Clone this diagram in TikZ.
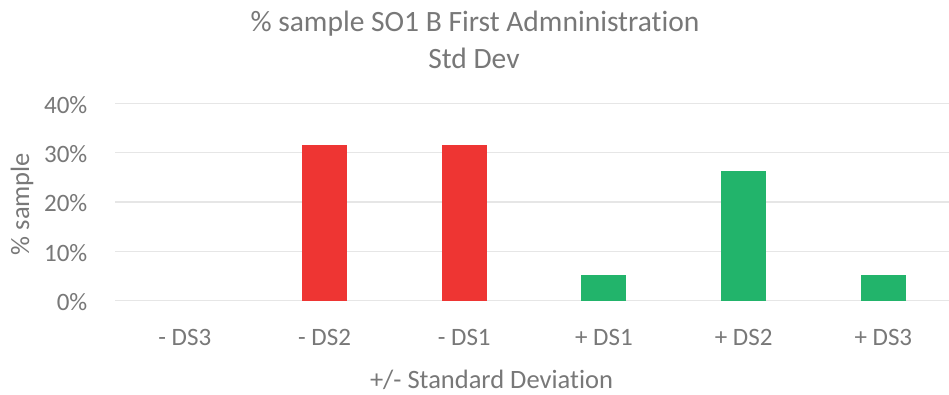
\documentclass[tikz,border=0pt]{standalone}
\usepackage{fontspec}
\setmainfont[Ligatures=NoCommon]{Carlito}
\definecolor{txtgray}{HTML}{787878}
\definecolor{gridgray}{HTML}{E6E6E6}
\definecolor{barred}{HTML}{EE3533}
\definecolor{bargreen}{HTML}{22B46B}
\tikzset{
  charttitle/.style={text=txtgray, font=\fontsize{29.5}{34}\selectfont, inner sep=0pt, anchor=base},
  ticklabel/.style={text=txtgray, font=\fontsize{25}{30}\selectfont, inner sep=0pt},
  axistitle/.style={text=txtgray, font=\fontsize{26.5}{31}\selectfont, inner sep=0pt},
  gridline/.style={draw=gridgray, line width=1.5pt},
  negbar/.style={fill=barred, draw=none},
  posbar/.style={fill=bargreen, draw=none},
}
\begin{document}
\begin{tikzpicture}[x=1pt, y=-1pt]
  \useasboundingbox (0,0) rectangle (949,395);
  \fill[white] (0,0) rectangle (949,395);

  % plot geometry: y of 0% and pixels per 100%
  \def\yzero{300.7}
  \def\yunit{493.5}
  \def\xstart{115}
  \def\catw{139.7}
  \def\barw{45}

  % horizontal gridlines with percentage labels
  \foreach \p/\lab in {0/0\%,1/10\%,2/20\%,3/30\%,4/40\%}{
    \pgfmathsetmacro{\yy}{\yzero-\p*0.1*\yunit}
    \coordinate (gl\p) at (\xstart,\yy);
    \coordinate (gr\p) at (949,\yy);
    \draw[gridline] (gl\p) -- (gr\p);
    \node[ticklabel, anchor=base east] (yl\p) at (87.5,\yy+10) {\lab};
  }

  % bars: category index / value / style
  \foreach \i/\v/\st in {0/0/negbar,1/0.315789/negbar,2/0.315789/negbar,3/0.052632/posbar,4/0.263158/posbar,5/0.052632/posbar}{
    \pgfmathsetmacro{\xc}{\xstart+(\i+0.5)*\catw}
    \pgfmathsetmacro{\ytop}{\yzero-\v*\yunit}
    \ifdim\v pt>0pt
      \fill[\st] (\xc-\barw/2,\yzero) rectangle (\xc+\barw/2,\ytop);
    \fi
  }

  % category labels
  \foreach \i/\lab in {0/- DS3,1/- DS2,2/- DS1,3/+ DS1,4/+ DS2,5/+ DS3}{
    \pgfmathsetmacro{\xc}{\xstart+(\i+0.5)*\catw}
    \node[ticklabel, anchor=base] (xl\i) at (\xc,345) {\lab};
  }

  % titles
  \node[charttitle] (title) at (475,32) {\% sample SO1 B First Admninistration};
  \node[charttitle] (subtitle) at (474,69) {Std Dev};
  \node[axistitle, anchor=base] (xtitle) at (491.5,388) {+/- Standard Deviation};
  \node[axistitle, rotate=90, anchor=base] (ytitle) at (29,204) {\% sample};
\end{tikzpicture}
\end{document}
